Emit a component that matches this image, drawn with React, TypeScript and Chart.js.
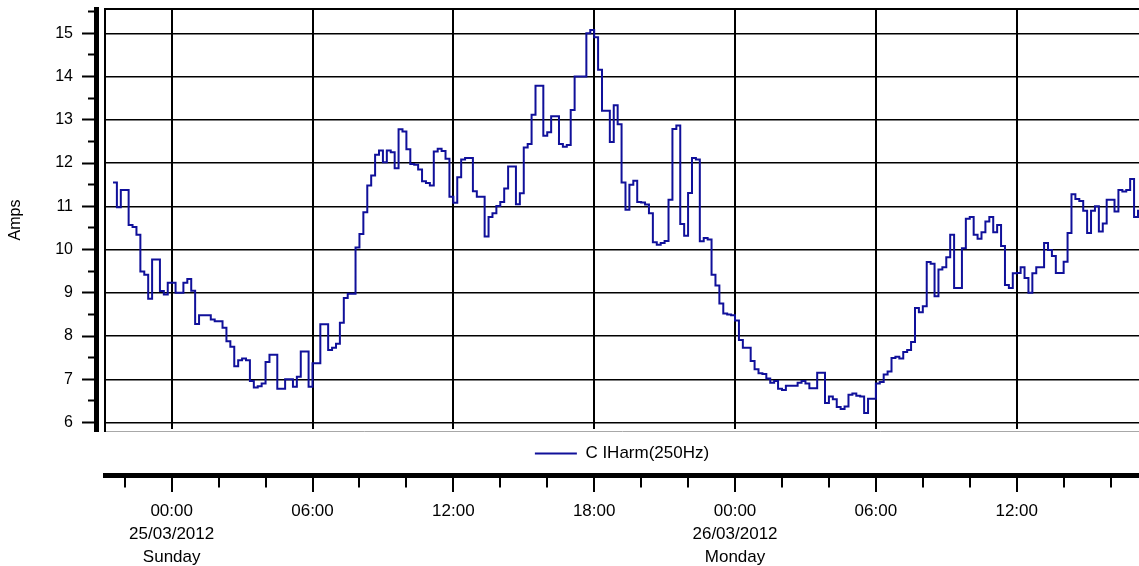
import React, { useEffect, useRef } from 'react';
import { Chart, registerables } from 'chart.js';

Chart.register(...registerables);

// ---- data -----------------------------------------------------------------
const seriesLabel = 'C IHarm(250Hz)';
const yAxisTitle = 'Amps';

// Hours relative to 00:00 on 25/03/2012; first sample is 21:30 on 24/03/2012.
const sampleStartHour = -2.5;
const sampleStepMinutes = 10;

const ampsValues = [
  11.55, 10.98, 11.38, 11.38, 10.57, 10.52, 10.34, 9.49, 9.42, 8.86,
  9.77, 9.77, 9.04, 8.96, 9.23, 9.23, 9.0, 9.0, 9.23, 9.32,
  9.05, 8.28, 8.48, 8.48, 8.48, 8.38, 8.34, 8.34, 8.19, 7.88,
  7.75, 7.3, 7.44, 7.48, 7.44, 6.96, 6.81, 6.84, 6.9, 7.4,
  7.57, 7.57, 6.78, 6.78, 7.0, 7.0, 6.83, 7.06, 7.64, 7.64,
  6.83, 7.37, 7.37, 8.27, 8.27, 7.68, 7.73, 7.82, 8.31, 8.88,
  8.98, 8.98, 10.05, 10.36, 10.86, 11.48, 11.71, 12.19, 12.29, 12.02,
  12.29, 12.25, 11.88, 12.78, 12.73, 12.32, 11.98, 11.96, 11.85, 11.58,
  11.54, 11.48, 12.27, 12.33, 12.28, 12.1, 11.22, 11.08, 11.67, 12.08,
  12.12, 12.12, 11.35, 11.22, 11.22, 10.3, 10.75, 10.84, 11.01, 11.1,
  11.41, 11.92, 11.92, 11.05, 11.3, 12.36, 12.44, 13.12, 13.79, 13.79,
  12.63, 12.71, 13.08, 13.08, 12.44, 12.38, 12.42, 13.23, 14.0, 14.0,
  14.0, 15.0, 15.08, 14.91, 14.16, 13.21, 13.21, 12.49, 13.34, 12.9,
  11.55, 10.92, 11.5, 11.59, 11.1, 11.09, 11.04, 10.84, 10.17, 10.11,
  10.15, 10.2, 11.15, 12.79, 12.87, 10.59, 10.32, 11.31, 12.12, 12.08,
  10.19, 10.27, 10.23, 9.42, 9.17, 8.75, 8.52, 8.5, 8.48, 8.36,
  7.91, 7.73, 7.73, 7.42, 7.23, 7.14, 7.12, 7.02, 6.92, 6.96,
  6.78, 6.75, 6.85, 6.85, 6.85, 6.92, 6.96, 6.9, 6.79, 6.79,
  7.15, 7.15, 6.45, 6.6, 6.54, 6.36, 6.31, 6.37, 6.64, 6.67,
  6.62, 6.6, 6.22, 6.55, 6.55, 6.9, 6.94, 7.11, 7.18, 7.49,
  7.52, 7.48, 7.63, 7.68, 7.86, 8.65, 8.55, 8.69, 9.71, 9.67,
  8.92, 9.54, 9.59, 9.82, 10.34, 9.11, 9.11, 10.03, 10.71, 10.75,
  10.34, 10.25, 10.4, 10.65, 10.75, 10.4, 10.57, 10.08, 9.18, 9.11,
  9.45, 9.46, 9.59, 9.34, 9.0, 9.45, 9.59, 9.59, 10.15, 9.99,
  9.85, 9.46, 9.46, 9.72, 10.38, 11.28, 11.17, 11.12, 10.9, 10.38,
  10.9, 11.0, 10.42, 10.6, 11.15, 11.15, 10.88, 11.38, 11.34, 11.38,
  11.63, 10.75, 10.9, 10.9,
];

// axis ranges / ticks
const xMinHour = -2.84;
const xMaxHour = 41.21;
const yMin = 5.804;
const yMax = 15.563;
const yGridValues = [6, 7, 8, 9, 10, 11, 12, 13, 14, 15];
const yTickValues = [6, 6.5, 7, 7.5, 8, 8.5, 9, 9.5, 10, 10.5, 11, 11.5, 12, 12.5, 13, 13.5, 14, 14.5, 15, 15.5];
const xTickHours = [-2, 0, 2, 4, 6, 8, 10, 12, 14, 16, 18, 20, 22, 24, 26, 28, 30, 32, 34, 36, 38, 40];
const xMajorTickHours = [0, 6, 12, 18, 24, 30, 36];
const xMajorTickLabels: (string | string[])[] = [
  ['00:00', '25/03/2012', 'Sunday'],
  '06:00',
  '12:00',
  '18:00',
  ['00:00', '26/03/2012', 'Monday'],
  '06:00',
  '12:00',
];

// ---- styling ----------------------------------------------------------------
const FONT = "'Liberation Sans', Arial, Helvetica, sans-serif";
const LINE_COLOR = '#10109a';

const isMajorHour = (v: number) => xMajorTickHours.indexOf(v) >= 0;

export default function App() {
  const canvasRef = useRef<HTMLCanvasElement | null>(null);

  useEffect(() => {
    const canvas = canvasRef.current;
    if (!canvas) return;

    const points = ampsValues.map((v, i) => ({
      x: sampleStartHour + (i * sampleStepMinutes) / 60,
      y: v,
    }));

    const chart = new Chart(canvas, {
      type: 'line',
      data: {
        datasets: [
          {
            label: seriesLabel,
            data: points,
            borderColor: LINE_COLOR,
            backgroundColor: LINE_COLOR,
            borderWidth: 2,
            pointRadius: 0,
            pointHoverRadius: 0,
            stepped: true,
            fill: false,
            xAxisID: 'x',
            yAxisID: 'y',
          },
        ],
      },
      options: {
        responsive: false,
        animation: false,
        events: [],
        layout: { padding: { top: 9, left: 0, right: 0, bottom: 0 } },
        plugins: {
          tooltip: { enabled: false },
          legend: {
            display: true,
            position: 'bottom',
            fullSize: false,
            weight: 1000,
            labels: {
              usePointStyle: true,
              pointStyle: 'line',
              pointStyleWidth: 42,
              padding: 14,
              color: '#000',
              font: { family: FONT, size: 17 },
            },
          },
        },
        scales: {
          x: {
            type: 'linear',
            position: 'bottom',
            weight: 2000,
            bounds: 'data',
            min: xMinHour,
            max: xMaxHour,
            afterBuildTicks: (s: any) => {
              s.ticks = xTickHours.map((v) => ({ value: v }));
            },
            afterFit: (s: any) => {
              s.height = 91;
            },
            ticks: {
              autoSkip: false,
              maxRotation: 0,
              minRotation: 0,
              padding: 8,
              color: '#000',
              font: { family: FONT, size: 17, lineHeight: 1.36 },
              callback: (value: any) => {
                const k = xMajorTickHours.indexOf(Number(value));
                return k >= 0 ? xMajorTickLabels[k] : '';
              },
            },
            grid: {
              display: true,
              drawOnChartArea: true,
              color: (ctx: any) =>
                ctx.tick && isMajorHour(ctx.tick.value) ? '#000' : 'rgba(0,0,0,0)',
              lineWidth: 2,
              tickColor: '#000',
              tickWidth: 2,
              tickLength: 17,
              tickBorderDash: (ctx: any) =>
                ctx.tick && isMajorHour(ctx.tick.value) ? [] : [9.5, 100],
            },
            border: { display: true, color: '#000', width: 5 },
          },
          gap: {
            type: 'linear',
            position: 'bottom',
            weight: 1500,
            min: 0,
            max: 1,
            ticks: { display: false },
            grid: { display: false, drawTicks: false, tickLength: 0 },
            border: { display: false },
            afterFit: (s: any) => {
              s.height = 3;
            },
          },
          yDeco: {
            type: 'linear',
            position: 'left',
            weight: 10,
            bounds: 'data',
            min: yMin,
            max: yMax,
            afterBuildTicks: (s: any) => {
              s.ticks = yTickValues.map((v) => ({ value: v }));
            },
            afterFit: (s: any) => {
              s.width = 96;
            },
            title: {
              display: true,
              text: yAxisTitle,
              color: '#000',
              font: { family: FONT, size: 16 },
              padding: { top: 6, bottom: 0 },
            },
            ticks: {
              autoSkip: false,
              padding: 0,
              color: '#000',
              font: { family: FONT, size: 16, lineHeight: 1.0 },
              callback: (value: any) =>
                Number.isInteger(Number(value)) ? String(value) : '',
            },
            grid: {
              display: true,
              drawOnChartArea: false,
              color: '#000',
              tickColor: '#000',
              tickWidth: 2,
              tickLength: 23,
              tickBorderDash: (ctx: any) =>
                ctx.tick && Number.isInteger(ctx.tick.value) ? [0, 9, 100] : [0, 15, 100],
            },
            border: { display: true, color: '#000', width: 5 },
          },
          y: {
            type: 'linear',
            position: 'left',
            weight: 0,
            bounds: 'data',
            min: yMin,
            max: yMax,
            afterBuildTicks: (s: any) => {
              s.ticks = [yMin, ...yGridValues, yMax].map((v) => ({ value: v }));
            },
            afterFit: (s: any) => {
              s.width = 9;
            },
            ticks: { display: false },
            grid: {
              display: true,
              drawOnChartArea: true,
              drawTicks: false,
              tickLength: 0,
              color: (ctx: any) => (ctx.index === 0 ? '#a8a8a8' : '#000'),
              lineWidth: (ctx: any) =>
                ctx.index === 0 ? 1 : ctx.index === yGridValues.length + 1 ? 2 : 1.5,
            },
            border: { display: true, color: '#000', width: 2 },
          },
        },
      } as any,
    });

    return () => {
      chart.destroy();
    };
  }, []);

  return (
    <div
      style={{
        position: 'fixed',
        left: 0,
        top: 0,
        width: 1139,
        height: 566,
        background: '#fff',
      }}
    >
      <canvas
        ref={canvasRef}
        width={1139}
        height={566}
        style={{ display: 'block', width: 1139, height: 566 }}
      />
    </div>
  );
}
